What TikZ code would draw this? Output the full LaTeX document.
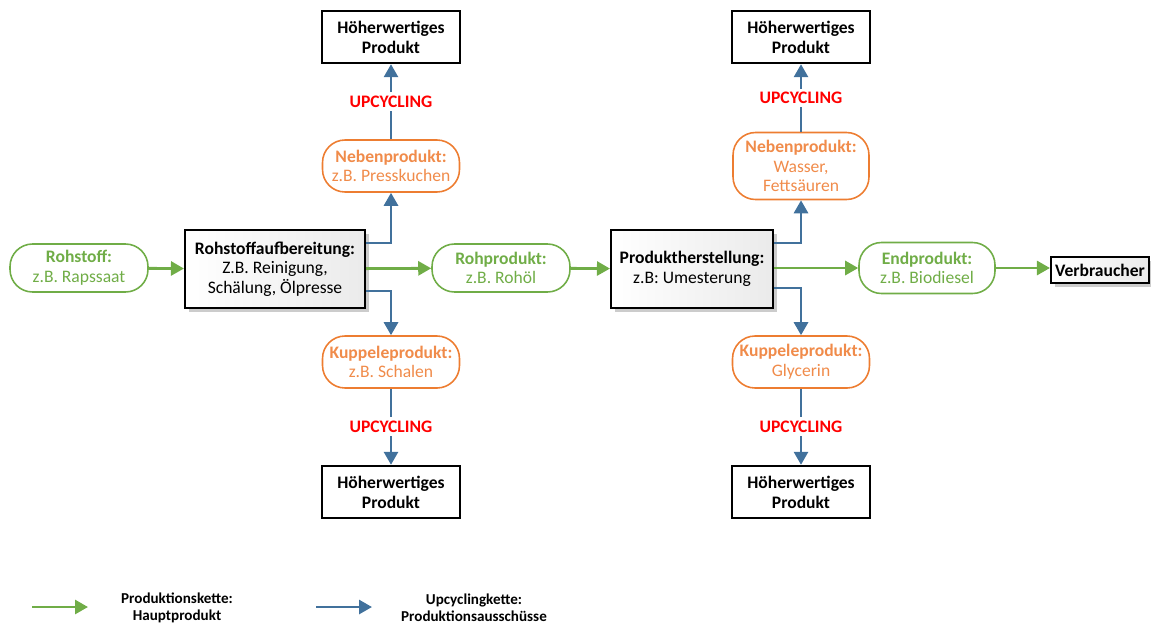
\documentclass[tikz,border=0pt]{standalone}
\usepackage{fontspec}
\setmainfont{Carlito}
\usepackage{xcolor}
\usepackage{tikz}
\usetikzlibrary{arrows.meta, shadows}

\definecolor{hpgreen}{HTML}{70AD47}
\definecolor{upblue}{HTML}{41719C}
\definecolor{nporange}{HTML}{ED7D31}
\definecolor{nptext}{HTML}{F08B4A}

\begin{document}
\begin{tikzpicture}[
    x=0.02cm, y=-0.02cm,
    font=\fontsize{10}{11.2}\selectfont,
    prodbox/.style={draw, line width=1.2pt, align=center, inner sep=2pt, left color=white, right color=black!8, drop shadow={shadow xshift=2pt, shadow yshift=-2pt, fill=black!40}},
    hwbox/.style={draw, line width=1.1pt, fill=white, align=center, font=\fontsize{10}{11.4}\selectfont\bfseries, minimum width=2.76cm, minimum height=1.05cm},
    mainpill/.style={draw=hpgreen, line width=0.9pt, rounded corners=0.45cm, text=hpgreen, align=center, minimum width=2.76cm, minimum height=0.96cm},
    sidepill/.style={draw=nporange, line width=0.9pt, rounded corners=0.45cm, text=nptext, align=center, minimum width=2.74cm, minimum height=1.04cm},
    mainarr/.style={-{Triangle[length=0.26cm,width=0.28cm]}, line width=1.6pt, hpgreen},
    uparr/.style={-{Triangle[length=0.26cm,width=0.28cm]}, line width=1.6pt, upblue},
    uplabel/.style={fill=white, text=red, font=\fontsize{10}{11.4}\selectfont\bfseries, inner sep=2pt},
    legtext/.style={align=center, font=\fontsize{8.6}{9.9}\selectfont\bfseries},
]
\useasboundingbox (0,0) rectangle (1151,626);

% === Main chain ===
\node[mainpill] (rohstoff) at (79,268) {\textbf{Rohstoff:}\\z.B. Rapssaat};
\node[prodbox, minimum width=3.6cm, minimum height=1.56cm] (rsa) at (275,269)
    {\textbf{Rohstoffaufbereitung:}\\Z.B. Reinigung,\\Schälung, Ölpresse};
\node[mainpill] (roh) at (501,268) {\textbf{Rohprodukt:}\\z.B. Rohöl};
\node[prodbox, minimum width=3.24cm, minimum height=1.56cm] (ph) at (692,269)
    {\textbf{Produktherstellung:}\\z.B: Umesterung};
\node[mainpill, minimum width=2.72cm, minimum height=1.02cm] (endp) at (927,268) {\textbf{Endprodukt:}\\z.B. Biodiesel};
\node[prodbox, font=\fontsize{10}{11.2}\selectfont\bfseries, minimum width=1.96cm, minimum height=0.52cm, inner sep=1pt] (verb) at (1100,270) {Verbraucher};

\draw[mainarr] (rohstoff) -- (rsa);
\draw[mainarr] (rsa) -- (roh);
\draw[mainarr] (roh) -- (ph);
\draw[mainarr] (ph.east |- endp) -- (endp);
\draw[mainarr] (endp) -- (verb.west |- endp);

% === Side products ===
\node[sidepill] (nebL) at (391,166) {\textbf{Nebenprodukt:}\\z.B. Presskuchen};
\node[sidepill] (kupL) at (391,362) {\textbf{Kuppeleprodukt:}\\z.B. Schalen};
\node[sidepill, minimum width=2.72cm, minimum height=1.34cm] (nebR) at (801,166) {\textbf{Nebenprodukt:}\\Wasser,\\Fettsäuren};
\node[sidepill] (kupR) at (801,362) {\textbf{Kuppeleprodukt:}\\Glycerin};

\draw[uparr] ([yshift=0.52cm]rsa.east) -| (nebL.south);
\draw[uparr] ([yshift=-0.44cm]rsa.east) -| (kupL.north);
\draw[uparr] ([yshift=0.52cm]ph.east) -| (nebR.south);
\draw[uparr] ([yshift=-0.38cm]ph.east) -| (kupR.north);

% === Upcycling targets ===
\node[hwbox] (hwTL) at (391,37) {Höherwertiges\\Produkt};
\node[hwbox] (hwTR) at (801,37) {Höherwertiges\\Produkt};
\node[hwbox] (hwBL) at (391,492) {Höherwertiges\\Produkt};
\node[hwbox] (hwBR) at (801,492) {Höherwertiges\\Produkt};

\draw[uparr] (nebL) -- node[uplabel] {UPCYCLING} (hwTL);
\draw[uparr] (nebR) -- node[uplabel] {UPCYCLING} (hwTR);
\draw[uparr] (kupL) -- node[uplabel] {UPCYCLING} (hwBL);
\draw[uparr] (kupR) -- node[uplabel] {UPCYCLING} (hwBR);

% === Legend ===
\coordinate (lgGa) at (32,607);
\coordinate (lgGb) at (88,607);
\coordinate (lgBa) at (316,607);
\coordinate (lgBb) at (372,607);
\draw[mainarr] (lgGa) -- (lgGb);
\draw[uparr] (lgBa) -- (lgBb);
\node[legtext] (lgG) at (177,608) {Produktionskette:\\Hauptprodukt};
\node[legtext] (lgB) at (474,608) {Upcyclingkette:\\Produktionsausschüsse};

\end{tikzpicture}
\end{document}
